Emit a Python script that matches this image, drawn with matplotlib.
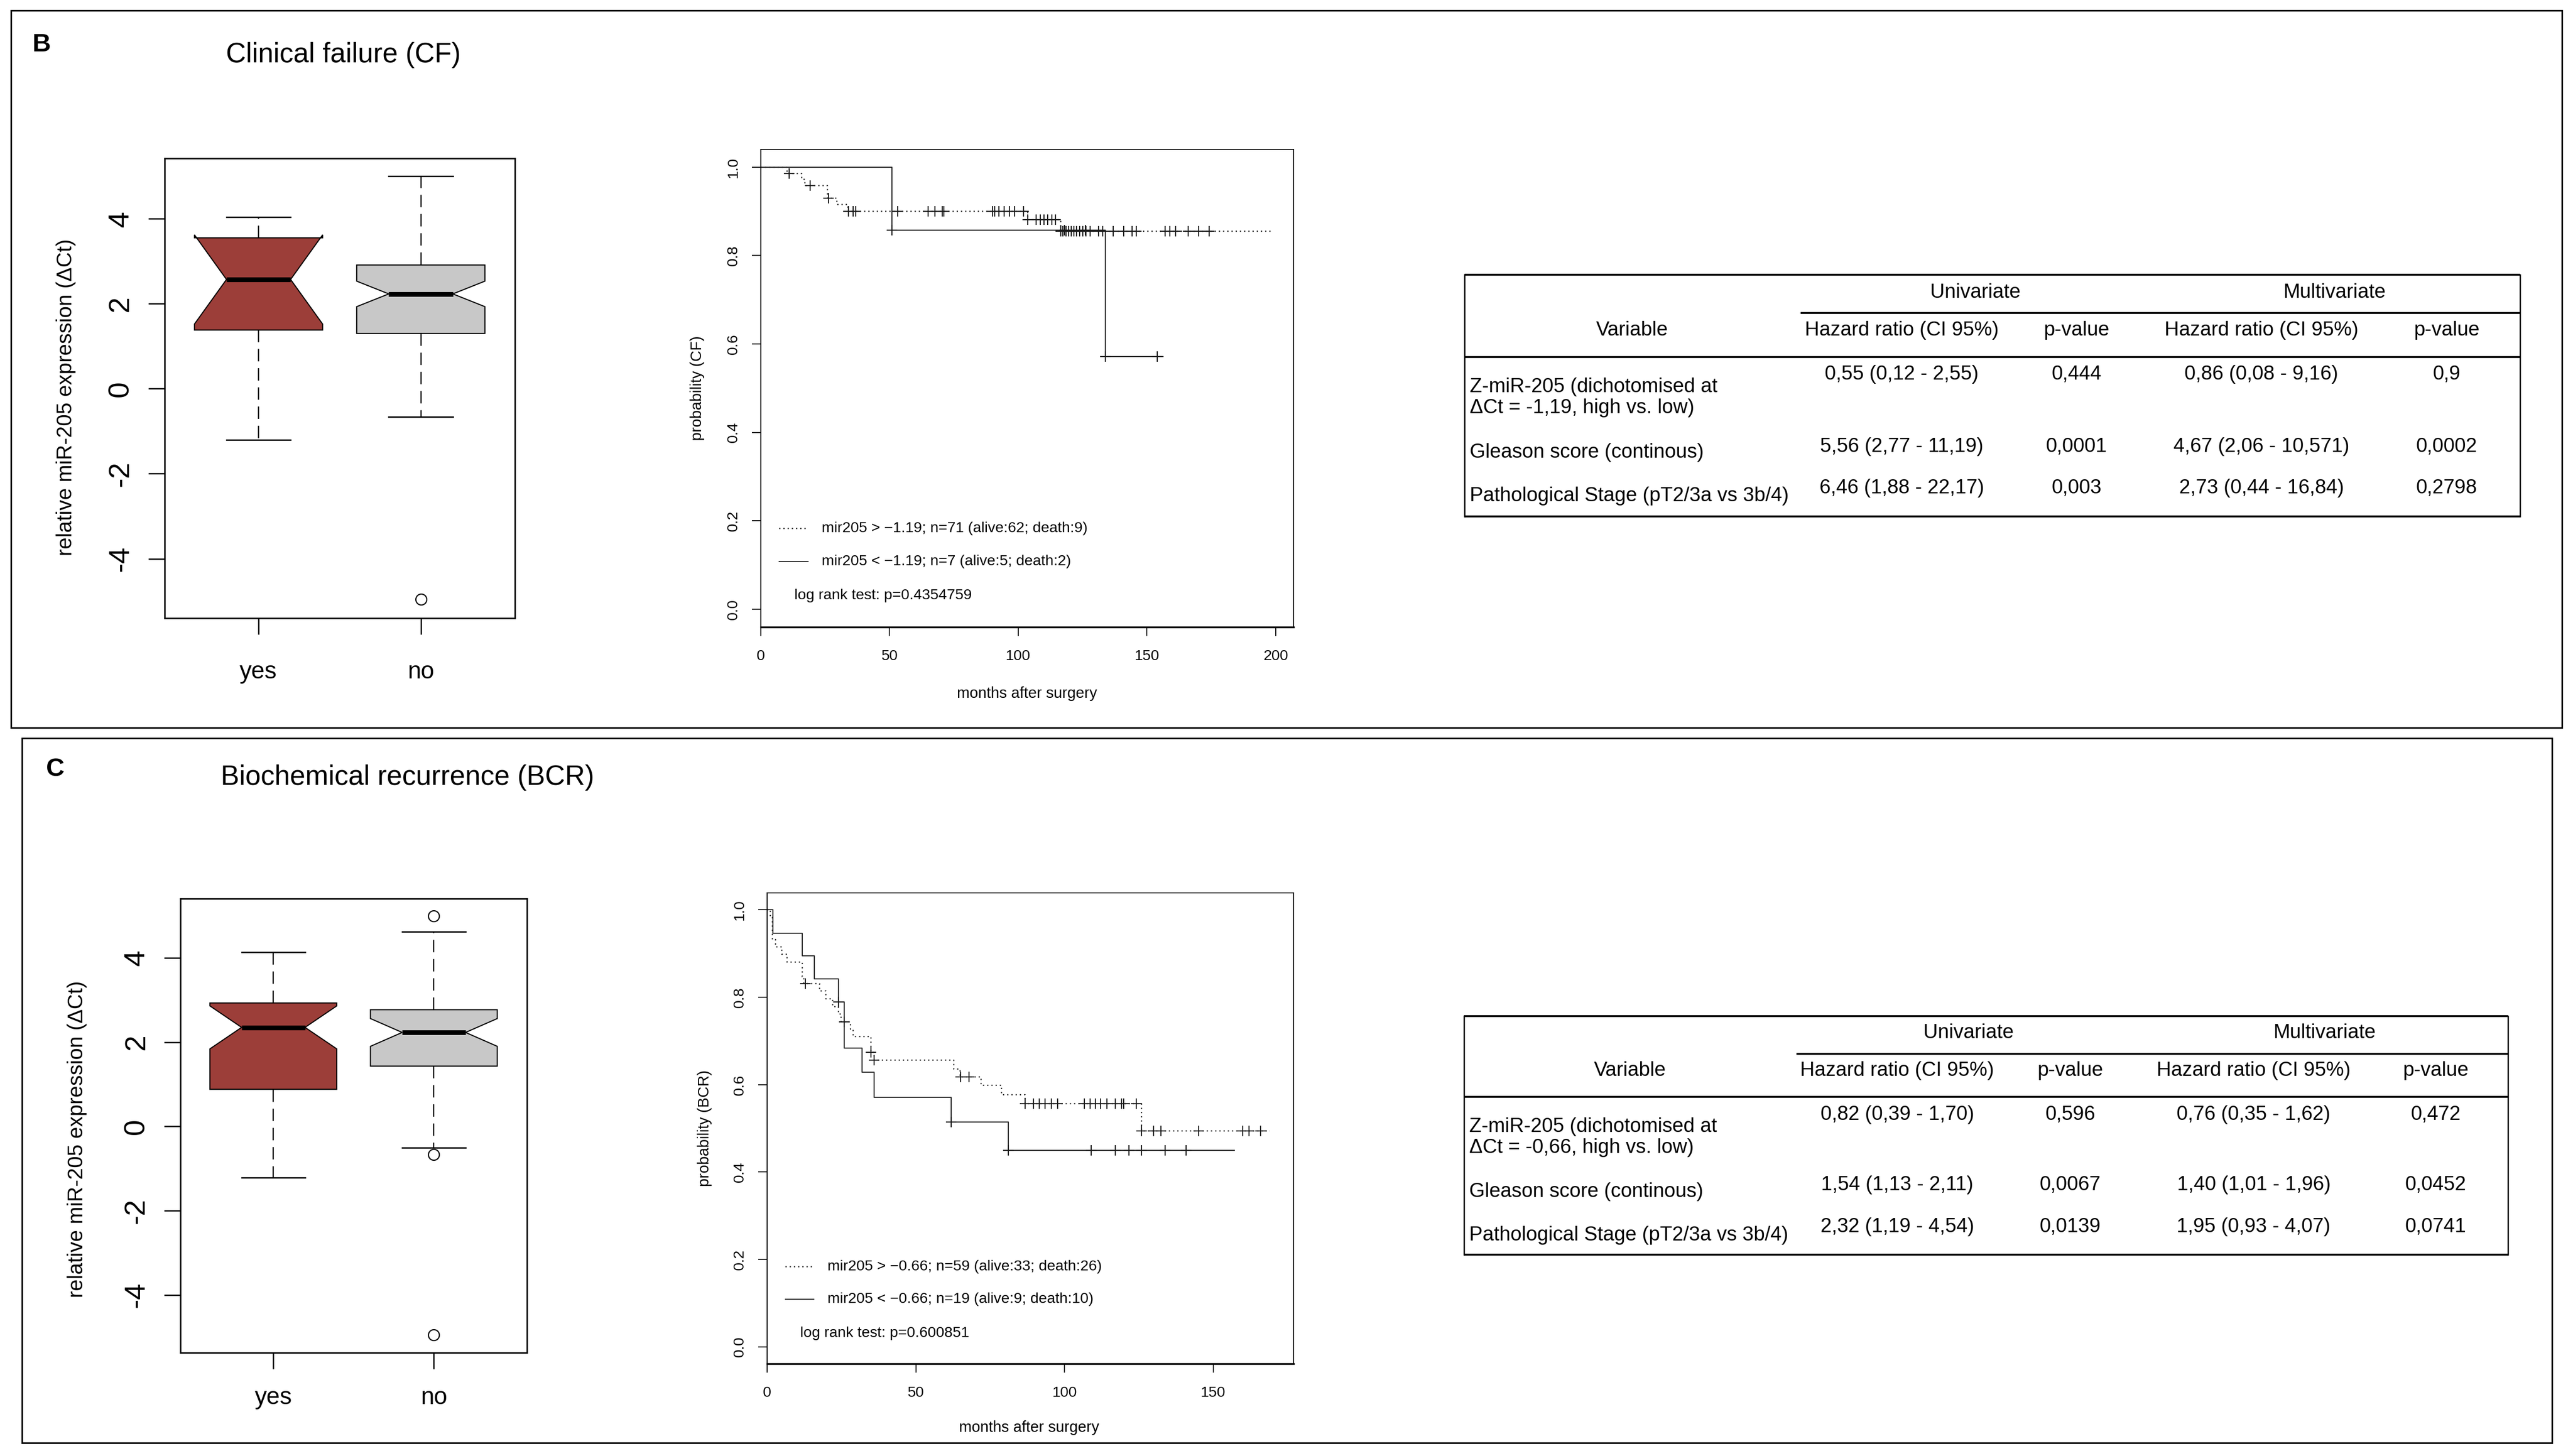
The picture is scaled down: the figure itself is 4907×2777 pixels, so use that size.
import numpy as np
import matplotlib
matplotlib.use("Agg")
import matplotlib.pyplot as plt
from matplotlib.patches import Rectangle

plt.rcParams['font.family'] = ['Liberation Sans', 'DejaVu Sans']

W, H = 4907, 2777
DPI = 100

# ---------------- data: box plots ----------------
box_categories = ["yes", "no"]
box_colors = ["#9C3E39", "#C8C8C8"]

cf_med = [2.57, 2.23]
cf_q1 = [1.38, 1.30]
cf_q3 = [3.55, 2.91]
cf_cilo = [1.52, 1.93]
cf_cihi = [3.62, 2.53]
cf_whislo = [-1.21, -0.66]
cf_whishi = [4.04, 5.00]
cf_fliers = [[], [-4.96]]

bcr_med = [2.35, 2.23]
bcr_q1 = [0.88, 1.43]
bcr_q3 = [2.93, 2.77]
bcr_cilo = [1.84, 1.90]
bcr_cihi = [2.86, 2.56]
bcr_whislo = [-1.21, -0.51]
bcr_whishi = [4.14, 4.62]
bcr_fliers = [[], [4.99, -0.67, -4.95]]

box_yticks = [-4, -2, 0, 2, 4]
box_ylabel = "relative miR-205 expression (\u0394Ct)"

# ---------------- data: Kaplan-Meier curves ----------------
# Clinical failure (CF)
cf_hi_t = [0, 10.3, 15.9, 17.1, 25.9, 29.5, 33.8, 103.6, 116.6, 198.0]
cf_hi_s = [1.0, 0.986, 0.972, 0.958, 0.930, 0.915, 0.900, 0.881, 0.855, 0.855]
cf_hi_cens = [11.0, 19.2, 26.2, 34.1, 35.8, 36.8, 53.1, 65.0, 67.7, 70.4, 71.1,
              90.1, 90.8, 92.5, 94.5, 96.5, 98.5, 102.0, 103.6, 107.0, 108.5,
              110.0, 111.5, 113.0, 114.5, 116.6, 117.4, 118.5, 119.6, 120.6,
              121.6, 122.7, 123.9, 125.0, 126.3, 127.9, 131.2, 132.8, 136.9,
              140.9, 144.2, 145.8, 157.1, 158.8, 161.2, 166.1, 170.1, 174.2]
cf_lo_t = [0, 51.0, 133.9, 156.3]
cf_lo_s = [1.0, 0.857, 0.571, 0.571]
cf_lo_cens = [51.0, 118.0, 126.0, 133.9, 153.9]
cf_xticks = [0, 50, 100, 150, 200]
cf_legend = ["mir205 > \u22121.19; n=71 (alive:62; death:9)",
             "mir205 < \u22121.19; n=7 (alive:5; death:2)"]
cf_logrank = "log rank test: p=0.4354759"

# Biochemical recurrence (BCR)
bcr_hi_t = [0, 1.1, 1.8, 2.9, 4.9, 6.8, 11.9, 12.4, 17.7, 19.8, 22.1, 23.9, 24.9,
            28.0, 28.9, 34.9, 35.9, 62.8, 64.9, 72.0, 78.8, 86.8, 125.8, 169.0]
bcr_hi_s = [1.0, 0.983, 0.932, 0.915, 0.898, 0.881, 0.847, 0.831, 0.814, 0.797,
            0.779, 0.762, 0.744, 0.727, 0.710, 0.674, 0.656, 0.636, 0.618, 0.598,
            0.577, 0.556, 0.494, 0.494]
bcr_hi_cens = [12.9, 25.9, 34.9, 35.9, 65.0, 67.9, 86.8, 89.6, 91.4, 93.4, 95.5,
               97.6, 106.7, 108.6, 110.4, 112.1, 114.2, 117.0, 119.1, 119.8, 124.0,
               125.8, 129.9, 132.4, 145.1, 159.8, 161.9, 165.9]
bcr_lo_t = [0, 1.96, 11.9, 15.9, 23.9, 25.9, 31.9, 35.9, 61.9, 81.0, 157.0]
bcr_lo_s = [1.0, 0.947, 0.895, 0.842, 0.789, 0.684, 0.628, 0.571, 0.514, 0.449, 0.449]
bcr_lo_cens = [23.9, 61.9, 81.0, 109.0, 117.0, 121.6, 125.8, 133.8, 140.9]
bcr_xticks = [0, 50, 100, 150]
bcr_legend = ["mir205 > \u22120.66; n=59 (alive:33; death:26)",
              "mir205 < \u22120.66; n=19 (alive:9; death:10)"]
bcr_logrank = "log rank test: p=0.600851"

km_yticks = [0.0, 0.2, 0.4, 0.6, 0.8, 1.0]
km_xlabel = "months after surgery"

# ---------------- data: tables ----------------
table_groups = ["Univariate", "Multivariate"]
table_header = ["Variable", "Hazard ratio (CI 95%)", "p-value",
                "Hazard ratio (CI 95%)", "p-value"]
cf_table_rows = [
    ["Z-miR-205 (dichotomised at\n\u0394Ct = -1,19, high vs. low)",
     "0,55 (0,12 - 2,55)", "0,444", "0,86 (0,08 - 9,16)", "0,9"],
    ["Gleason score (continous)", "5,56 (2,77 - 11,19)", "0,0001",
     "4,67 (2,06 - 10,571)", "0,0002"],
    ["Pathological Stage (pT2/3a vs 3b/4)", "6,46 (1,88 - 22,17)", "0,003",
     "2,73 (0,44 - 16,84)", "0,2798"],
]
bcr_table_rows = [
    ["Z-miR-205 (dichotomised at\n\u0394Ct = -0,66, high vs. low)",
     "0,82 (0,39 - 1,70)", "0,596", "0,76 (0,35 - 1,62)", "0,472"],
    ["Gleason score (continous)", "1,54 (1,13 - 2,11)", "0,0067",
     "1,40 (1,01 - 1,96)", "0,0452"],
    ["Pathological Stage (pT2/3a vs 3b/4)", "2,32 (1,19 - 4,54)", "0,0139",
     "1,95 (0,93 - 4,07)", "0,0741"],
]

# ---------------- figure ----------------
fig = plt.figure(figsize=(W / DPI, H / DPI), dpi=DPI, facecolor="white")


def px_rect(x0, y0, x1, y1):
    return [x0 / W, 1 - y1 / H, (x1 - x0) / W, (y1 - y0) / H]


bg = fig.add_axes([0, 0, 1, 1])
bg.set_xlim(0, W)
bg.set_ylim(H, 0)
bg.axis("off")

# panel frames
bg.add_patch(Rectangle((21, 20), 4865, 1368, fill=False, lw=2.2, ec="black"))
bg.add_patch(Rectangle((42, 1408), 4825, 1344, fill=False, lw=2.2, ec="black"))

# panel letters and titles
bg.text(79, 85, "B", fontsize=35, fontweight="bold", ha="center", va="center")
bg.text(431, 105, "Clinical failure (CF)", fontsize=38, ha="left", va="center")
bg.text(105, 1468, "C", fontsize=35, fontweight="bold", ha="center", va="center")
bg.text(421, 1483, "Biochemical recurrence (BCR)", fontsize=38, ha="left", va="center")


def draw_box(rect, med, q1, q3, cilo, cihi, wlo, whi, fliers, ylim, xpad, ylab_xy):
    ax = fig.add_axes(px_rect(*rect))
    stats = []
    for i, cat in enumerate(box_categories):
        stats.append(dict(med=med[i], q1=q1[i], q3=q3[i], cilo=cilo[i], cihi=cihi[i],
                          whislo=wlo[i], whishi=whi[i], fliers=np.array(fliers[i]),
                          label=cat))
    bp = ax.bxp(stats, positions=[1, 2], widths=0.79, capwidths=0.395,
                patch_artist=True, shownotches=True,
                boxprops=dict(edgecolor="black", linewidth=1.5),
                whiskerprops=dict(color="black", linewidth=1.7, linestyle=(0, (10, 5.5))),
                capprops=dict(color="black", linewidth=1.9),
                medianprops=dict(color="black", linewidth=6.5, solid_capstyle="butt"),
                flierprops=dict(marker="o", markerfacecolor="none", markeredgecolor="black",
                                markersize=15, markeredgewidth=1.6))
    for patch, col in zip(bp["boxes"], box_colors):
        patch.set_facecolor(col)
    ax.set_xlim(0.42, 2.58)
    ax.set_ylim(*ylim)
    ax.set_yticks(box_yticks)
    ax.set_yticklabels([str(v) for v in box_yticks], rotation=90, va="center")
    ax.set_xticks([1, 2])
    ax.set_xticklabels(box_categories)
    ax.tick_params(axis="both", length=22, width=1.8, direction="out")
    ax.tick_params(axis="y", labelsize=40, pad=19)
    ax.tick_params(axis="x", labelsize=33, pad=xpad)
    for sp in ax.spines.values():
        sp.set_linewidth(2.0)
    ax.set_ylabel(box_ylabel, fontsize=29, va="center", ha="center")
    ax.yaxis.set_label_coords(*ylab_xy)
    return ax


draw_box((313.6, 302, 982, 1179), cf_med, cf_q1, cf_q3, cf_cilo, cf_cihi,
         cf_whislo, cf_whishi, cf_fliers, (-5.40, 5.42), 36, (-0.281, 0.48))
draw_box((343.7, 1713.7, 1005, 2579.7), bcr_med, bcr_q1, bcr_q3, bcr_cilo, bcr_cihi,
         bcr_whislo, bcr_whishi, bcr_fliers, (-5.37, 5.41), 24, (-0.2975, 0.47))


def levels_at(t_steps, s_steps, times):
    idx = np.searchsorted(np.asarray(t_steps), np.asarray(times), side="right") - 1
    return np.asarray(s_steps)[idx]


def draw_km(rect, hi_t, hi_s, hi_c, lo_t, lo_s, lo_c, xlim, ylim, xticks, ylabel,
            legend, logrank, xlab_xy, ylab_xy):
    ax = fig.add_axes(px_rect(*rect))
    dotted = (0, (1, 2.4))
    ax.step(hi_t, hi_s, where="post", color="#222222", lw=1.7, linestyle=dotted)
    ax.step(lo_t, lo_s, where="post", color="#2a2a2a", lw=1.5)
    ax.plot(hi_c, levels_at(hi_t, hi_s, hi_c), ls="none", marker="+", ms=15,
            mew=1.5, color="#1a1a1a")
    ax.plot(lo_c, levels_at(lo_t, lo_s, lo_c), ls="none", marker="+", ms=15,
            mew=1.5, color="#1a1a1a")
    ax.set_xlim(*xlim)
    ax.set_ylim(*ylim)
    ax.set_xticks(xticks)
    ax.set_xticklabels([str(v) for v in xticks])
    ax.set_yticks(km_yticks)
    ax.set_yticklabels(["%.1f" % v for v in km_yticks], rotation=90, va="center")
    ax.tick_params(axis="both", length=12, width=1.3, direction="out", labelsize=20.5)
    ax.tick_params(axis="y", pad=16)
    ax.tick_params(axis="x", pad=19)
    for sp in ax.spines.values():
        sp.set_linewidth(1.3)
    ax.spines["bottom"].set_linewidth(2.5)
    # legend
    ax.plot([0.035, 0.089], [0.206, 0.206], transform=ax.transAxes, color="#222222",
            lw=1.7, linestyle=dotted)
    ax.plot([0.035, 0.089], [0.137, 0.137], transform=ax.transAxes, color="#2a2a2a",
            lw=1.5)
    ax.text(0.1145, 0.206, legend[0], transform=ax.transAxes, fontsize=20.5,
            ha="left", va="center")
    ax.text(0.1145, 0.137, legend[1], transform=ax.transAxes, fontsize=20.5,
            ha="left", va="center")
    ax.text(0.0628, 0.065, logrank, transform=ax.transAxes, fontsize=20.5,
            ha="left", va="center")
    ax.set_xlabel(km_xlabel, fontsize=21, va="center")
    ax.xaxis.set_label_coords(*xlab_xy)
    ax.set_ylabel(ylabel, fontsize=21, va="center", ha="center")
    ax.yaxis.set_label_coords(*ylab_xy)
    return ax


draw_km((1450.9, 285, 2467.3, 1195.6), cf_hi_t, cf_hi_s, cf_hi_cens, cf_lo_t, cf_lo_s,
        cf_lo_cens, (0, 207), (-0.04, 1.04), cf_xticks, "probability (CF)",
        cf_legend, cf_logrank, (0.5, -0.14), (-0.119, 0.5))
draw_km((1462.9, 1702.9, 2467.3, 2601.1), bcr_hi_t, bcr_hi_s, bcr_hi_cens, bcr_lo_t,
        bcr_lo_s, bcr_lo_cens, (0, 177), (-0.039, 1.039), bcr_xticks,
        "probability (BCR)", bcr_legend, bcr_logrank, (0.498, -0.1355), (-0.118, 0.5))


def draw_table(g, rows):
    fs = 27.5
    lw_h = 2.6
    bg.plot([g["left"], g["right"]], [g["top"], g["top"]], color="black", lw=lw_h,
            solid_capstyle="butt")
    bg.plot([g["mid_x0"], g["right"]], [g["mid"], g["mid"]], color="black", lw=lw_h,
            solid_capstyle="butt")
    bg.plot([g["left"], g["right"]], [g["hdr"], g["hdr"]], color="black", lw=lw_h,
            solid_capstyle="butt")
    bg.plot([g["left"], g["right"]], [g["bottom"], g["bottom"]], color="black",
            lw=lw_h, solid_capstyle="butt")
    for x in (g["left"], g["right"]):
        bg.plot([x, x], [g["top"], g["bottom"]], color="black", lw=1.8)
    for gx, name in zip(g["grp_x"], table_groups):
        bg.text(gx, g["hdr1_y"], name, fontsize=fs, ha="center", va="center")
    bg.text(g["var_x"], g["hdr2_y"], table_header[0], fontsize=fs, ha="center",
            va="center")
    for cx, name in zip(g["col_x"], table_header[1:]):
        bg.text(cx, g["hdr2_y"], name, fontsize=fs, ha="center", va="center")
    for r, row in enumerate(rows):
        bg.text(g["lab_x"], g["lab_y"][r], row[0], fontsize=fs, ha="left",
                va="center", linespacing=1.12)
        for cx, val in zip(g["col_x"], row[1:]):
            bg.text(cx, g["val_y"][r], val, fontsize=fs, ha="center", va="center")


geom_cf = dict(left=2793, right=4806, top=524, mid=597, mid_x0=3434, hdr=681,
               bottom=985, var_x=3113, col_x=[3627, 3960, 4313, 4666],
               grp_x=[3767, 4453], hdr1_y=558, hdr2_y=630,
               val_y=[714, 852, 931], lab_y=[758, 863, 946], lab_x=2803)
geom_bcr = dict(left=2792, right=4783, top=1938, mid=2009.5, mid_x0=3426, hdr=2092,
                bottom=2393, var_x=3109, col_x=[3618, 3948, 4298, 4645],
                grp_x=[3754, 4434], hdr1_y=1970, hdr2_y=2042,
                val_y=[2126, 2260, 2340], lab_y=[2169, 2273, 2356], lab_x=2802)

draw_table(geom_cf, cf_table_rows)
draw_table(geom_bcr, bcr_table_rows)

fig.savefig("out.png", dpi=DPI, facecolor="white")
